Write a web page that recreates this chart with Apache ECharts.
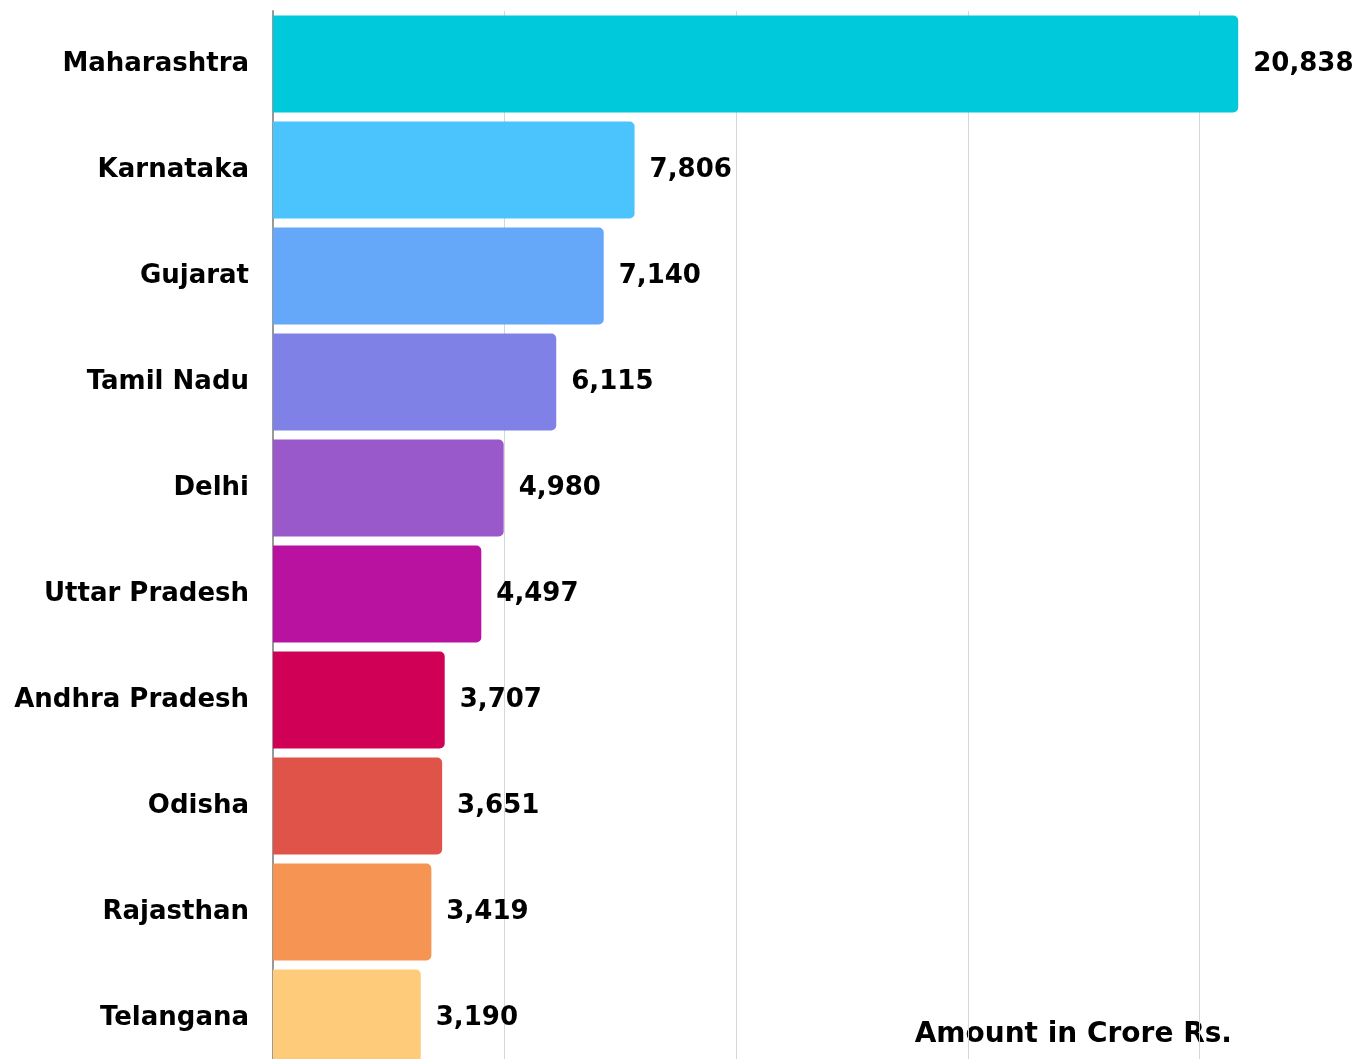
<!DOCTYPE html>
<html>
<head>
<meta charset="utf-8">
<script src="https://cdn.jsdelivr.net/npm/echarts@6/dist/echarts.min.js"></script>
<style>
  html, body { margin: 0; padding: 0; background: #fff; overflow: hidden; }
  /* the plot runs past the window on the right and bottom, like the original */
  #chart { width: 1431px; height: 1071px; }
</style>
</head>
<body>
<div id="chart"></div>
<script>
// states, top to bottom
const states = ['Maharashtra', 'Karnataka', 'Gujarat', 'Tamil Nadu', 'Delhi',
  'Uttar Pradesh', 'Andhra Pradesh', 'Odisha', 'Rajasthan', 'Telangana']
const amounts = [20838, 7806, 7140, 6115, 4980, 4497, 3707, 3651, 3419, 3190]
const barColors = ['#00c9dc', '#4bc3fd', '#65a7f9', '#7f81e7', '#9a59ca',
  '#ba12a0', '#d00057', '#df5349', '#f69453', '#fecb7a']

const font = 'DejaVu Sans'

let myChart = echarts.init(document.getElementById('chart'))
myChart.setOption({
  animation: false,
  grid: { left: 273, right: 0, top: 11, bottom: 0 },
  xAxis: {
    type: 'value',
    min: 0,
    max: 25000,
    interval: 5000,
    axisLabel: { show: false },
    axisLine: { show: false },
    axisTick: { show: false },
    splitLine: { lineStyle: { color: '#d6d6d6', width: 1 } }
  },
  yAxis: {
    type: 'category',
    inverse: true,
    data: states,
    axisLine: { show: true, lineStyle: { color: '#999', width: 2 } },
    axisTick: { show: false },
    axisLabel: {
      margin: 24,
      color: '#000',
      fontFamily: font,
      fontWeight: 'bold',
      fontSize: 26
    }
  },
  graphic: [{
    type: 'text',
    right: 199,
    top: 1021,
    style: {
      text: 'Amount in Crore Rs.',
      fill: '#000',
      font: 'bold 28px ' + font
    }
  }],
  series: [
    {
      type: 'bar',
      barCategoryGap: '8.5%',
      data: amounts.map((v, i) => ({ value: v, itemStyle: { color: barColors[i] } })),
      itemStyle: { borderRadius: [0, 5, 5, 0] },
      label: {
        show: true,
        position: 'right',
        distance: 15,
        color: '#000',
        fontFamily: font,
        fontWeight: 'bold',
        fontSize: 26,
        formatter: (p) => p.value.toLocaleString('en-US')
      }
    }
  ]
})
</script>
</body>
</html>
